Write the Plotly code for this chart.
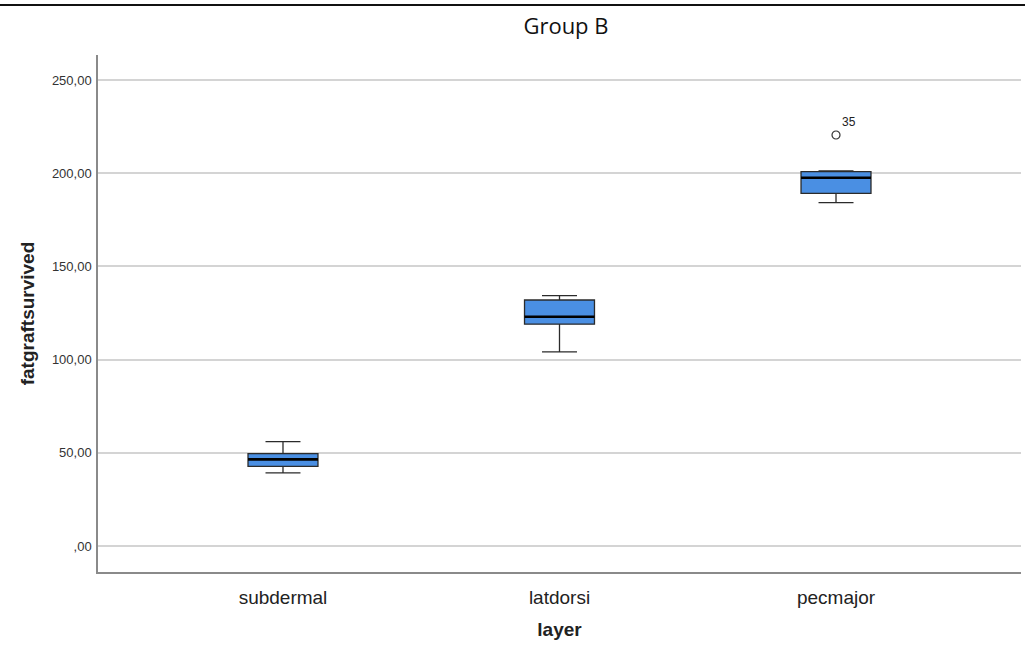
import plotly.graph_objects as go

# Summary statistics of fat graft survival per layer (Group B)
layers = ["subdermal", "latdorsi", "pecmajor"]
lower_whisker = [39.3, 104.2, 184.2]
q1_values = [42.7, 119.0, 189.2]
medians = [46.5, 123.0, 197.6]
q3_values = [49.6, 132.0, 200.8]
upper_whisker = [56.0, 134.3, 201.2]

# Outlying case
outlier_layer = [2]
outlier_values = [220.5]
outlier_ids = ["35"]

y_ticks = [0, 50, 100, 150, 200, 250]
y_tick_labels = [",00", "50,00", "100,00", "150,00", "200,00", "250,00"]

BOX_W = 0.253
FILL = "#4a8fe3"

fig = go.Figure()

for i, name in enumerate(layers):
    fig.add_trace(go.Box(
        x=[i], q1=[q1_values[i]], median=[medians[i]], q3=[q3_values[i]],
        lowerfence=[lower_whisker[i]], upperfence=[upper_whisker[i]],
        width=BOX_W, whiskerwidth=0.5, fillcolor=FILL,
        line=dict(color="#2b2b2b", width=1.3),
        boxpoints=False, showlegend=False, hoverinfo="skip", name=name,
    ))
    # thicker median bar
    fig.add_trace(go.Scatter(
        x=[i - BOX_W / 2, i + BOX_W / 2], y=[medians[i], medians[i]],
        mode="lines", line=dict(color="#000000", width=2.6),
        showlegend=False, hoverinfo="skip",
    ))

fig.add_trace(go.Scatter(
    x=outlier_layer, y=outlier_values, mode="markers+text",
    text=outlier_ids, textposition="top right",
    textfont=dict(family="Liberation Sans, Arial", size=12, color="#222"),
    marker=dict(symbol="circle-open", size=8, color="#333",
                line=dict(width=1.2, color="#333")),
    showlegend=False, hoverinfo="skip",
))

fig.update_layout(
    width=1025, height=656,
    margin=dict(l=98, r=4, t=55, b=84),
    paper_bgcolor="white", plot_bgcolor="white",
    title=dict(text="Group B", x=0.507, xref="paper", xanchor="center",
               y=1 - 26 / 656, yref="container", yanchor="middle",
               font=dict(family="Open Sans, Noto Sans", size=22, color="#111")),
    font=dict(family="Liberation Sans, Arial", color="#222"),
    shapes=[dict(type="line", xref="paper", yref="paper",
                 x0=-98 / 923, x1=(1025 - 98) / 923,
                 y0=1 + 50 / 517, y1=1 + 50 / 517,
                 line=dict(color="#111", width=2))],
)

fig.update_xaxes(
    range=[-0.669, 2.669], tickvals=[0, 1, 2], ticktext=layers,
    showgrid=False, zeroline=False, showline=True, linecolor="#8a8a8a", linewidth=1.5,
    tickfont=dict(size=19, color="#222"), ticklabelstandoff=7,
    title=dict(text="<b>layer</b>", font=dict(size=19, color="#222"), standoff=16),
)
fig.update_yaxes(
    range=[-13.9, 263.4], tickvals=y_ticks, ticktext=y_tick_labels,
    showgrid=True, gridcolor="#d4d4d4", gridwidth=2, zeroline=False,
    showline=True, linecolor="#8a8a8a", linewidth=1.5,
    tickfont=dict(size=13, color="#333"), ticklabelstandoff=2,
    title=dict(text="<b>fatgraftsurvived</b>", font=dict(size=19, color="#222"), standoff=12),
)

fig.write_html("out.html")
